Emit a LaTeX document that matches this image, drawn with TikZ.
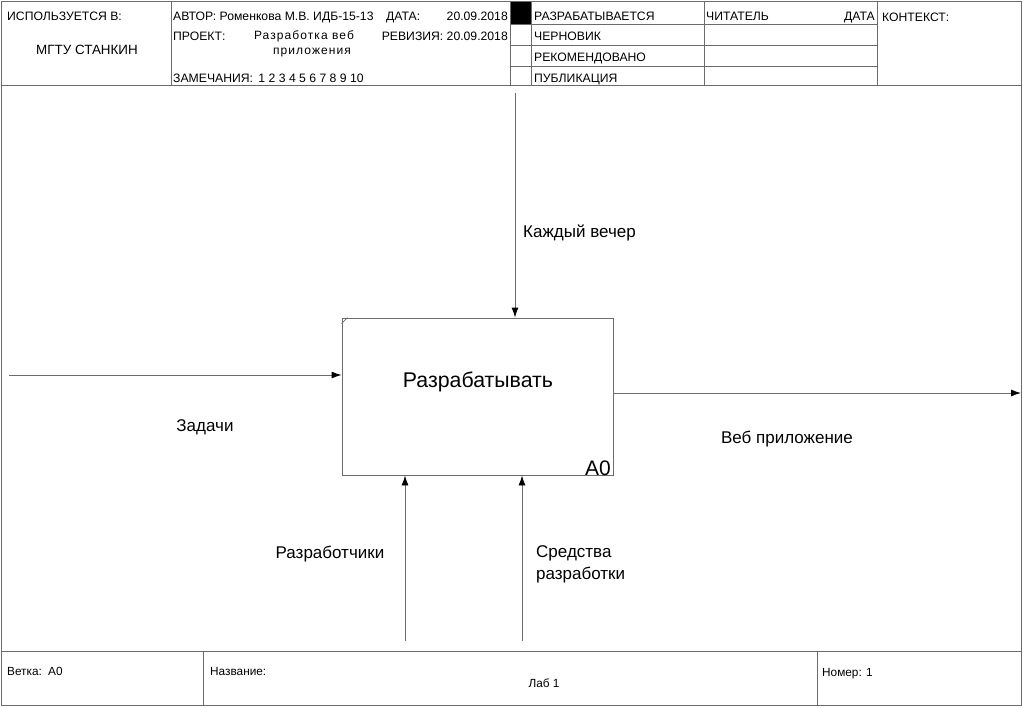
\documentclass[tikz,border=0pt]{standalone}
\usepackage{fontspec}
\setmainfont{Liberation Sans}
\usetikzlibrary{arrows.meta}
\definecolor{ln}{gray}{0.42}
\tikzset{
  frame/.style={draw=ln, line width=0.9pt},
  hd/.style={inner sep=0pt, anchor=west, text height=8.7pt, text depth=0pt, font=\fontsize{12.2}{14}\selectfont},
  hdr/.style={inner sep=0pt, anchor=east, text height=8.7pt, text depth=0pt, font=\fontsize{12.2}{14}\selectfont},
  ft/.style={inner sep=0pt, anchor=west, text height=8.5pt, text depth=0pt, font=\fontsize{11.8}{14}\selectfont},
  lbl/.style={inner sep=0pt, font=\fontsize{17}{22}\selectfont},
  func/.style={draw=ln, line width=0.9pt, minimum width=271pt, minimum height=157pt, inner sep=0pt},
  flow/.style={draw=ln, line width=0.9pt, -{Latex[length=10pt,width=7pt,black]}}
}
\begin{document}
\begin{tikzpicture}[x=1pt,y=-1pt]
\useasboundingbox (0,0) rectangle (1023,707);
% outer frame and separators
\draw[frame] (1,1) rectangle (1021,705);
\draw[frame] (1,85) -- (1021,85);
\draw[frame] (1,651) -- (1021,651);
\draw[frame] (171,1) -- (171,85);
\draw[frame] (510,1) -- (510,85);
\draw[frame] (531,1) -- (531,85);
\draw[frame] (704,1) -- (704,85);
\draw[frame] (877,1) -- (877,85);
\draw[frame] (510,24) -- (877,24);
\draw[frame] (510,45) -- (877,45);
\draw[frame] (510,66) -- (877,66);
\fill[black] (510.5,1.5) rectangle (530.5,23.5);
\draw[frame] (203,651) -- (203,705);
\draw[frame] (817,651) -- (817,705);
% header texts
\node[hd] (used) at (7,16) {ИСПОЛЬЗУЕТСЯ В:};
\node[inner sep=0pt, font=\fontsize{13.4}{15}\selectfont] (org) at (87,50) {МГТУ СТАНКИН};
\node[hd] (author) at (173,16) {АВТОР: Роменкова М.В. ИДБ-15-13};
\node[hd] (datek) at (386,16) {ДАТА:};
\node[hdr] (datev) at (508,16) {20.09.2018};
\node[hd] (proj) at (173,36) {ПРОЕКТ:};
\node[inner sep=0pt, font=\fontsize{12}{14}\selectfont\addfontfeature{LetterSpace=9}] (projn1) at (304,36) {Разработка веб};
\node[inner sep=0pt, font=\fontsize{12}{14}\selectfont\addfontfeature{LetterSpace=9}] (projn2) at (312,53) {приложения};
\node[hdr] (rev) at (508,36) {РЕВИЗИЯ: 20.09.2018};
\node[hd] (notes) at (173,78) {ЗАМЕЧАНИЯ:\, 1 2 3 4 5 6 7 8 9 10};
\node[hd] (s1) at (534,16) {РАЗРАБАТЫВАЕТСЯ};
\node[hd] (s2) at (534,36) {ЧЕРНОВИК};
\node[hd] (s3) at (534,57) {РЕКОМЕНДОВАНО};
\node[hd] (s4) at (534,78) {ПУБЛИКАЦИЯ};
\node[hd] (reader) at (706,16) {ЧИТАТЕЛЬ};
\node[hdr] (rdate) at (875,16) {ДАТА};
\node[hd] (ctx) at (882,17) {КОНТЕКСТ:};
% footer texts
\node[ft] (branch) at (7,671) {Ветка:\, A0};
\node[ft] (title) at (210,671) {Название:};
\node[inner sep=0pt, font=\fontsize{11.8}{14}\selectfont] (titlev) at (544,683) {Лаб 1};
\node[ft] (num) at (822,672) {Номер: 1};
% function box
\node[func] (A0) at (477.5,396.5) {};
\draw[ln, line width=0.6pt] ([yshift=-6pt]A0.north west) -- ([xshift=6pt]A0.north west);
\node[inner sep=0pt, font=\fontsize{21.3}{25}\selectfont] (fname) at (478,382) {Разрабатывать};
\node[inner sep=0pt, anchor=south east, font=\fontsize{21}{24}\selectfont] (fnum) at (611,476) {A0};
% free ends
\coordinate (ctlS) at (515,93);
\coordinate (inS) at (9,375);
\coordinate (outE) at (1021,393);
\coordinate (m1S) at (405,641);
\coordinate (m2S) at (522,641);
% arrows
\draw[flow] (ctlS) -- (ctlS |- A0.north);
\draw[flow] (inS) -- (inS -| A0.west);
\draw[flow] (outE -| A0.east) -- (outE);
\draw[flow] (m1S) -- (m1S |- A0.south);
\draw[flow] (m2S) -- (m2S |- A0.south);
% arrow labels
\node[lbl, anchor=west] (lctl) at (523,233) {Каждый вечер};
\node[lbl] (lin) at (205,427) {Задачи};
\node[lbl] (lout) at (787,439) {Веб приложение};
\node[lbl] (lm1) at (330,554) {Разработчики};
\node[lbl, anchor=north west, align=left] (lm2) at (536,545) {Средства\\разработки};
\end{tikzpicture}
\end{document}
